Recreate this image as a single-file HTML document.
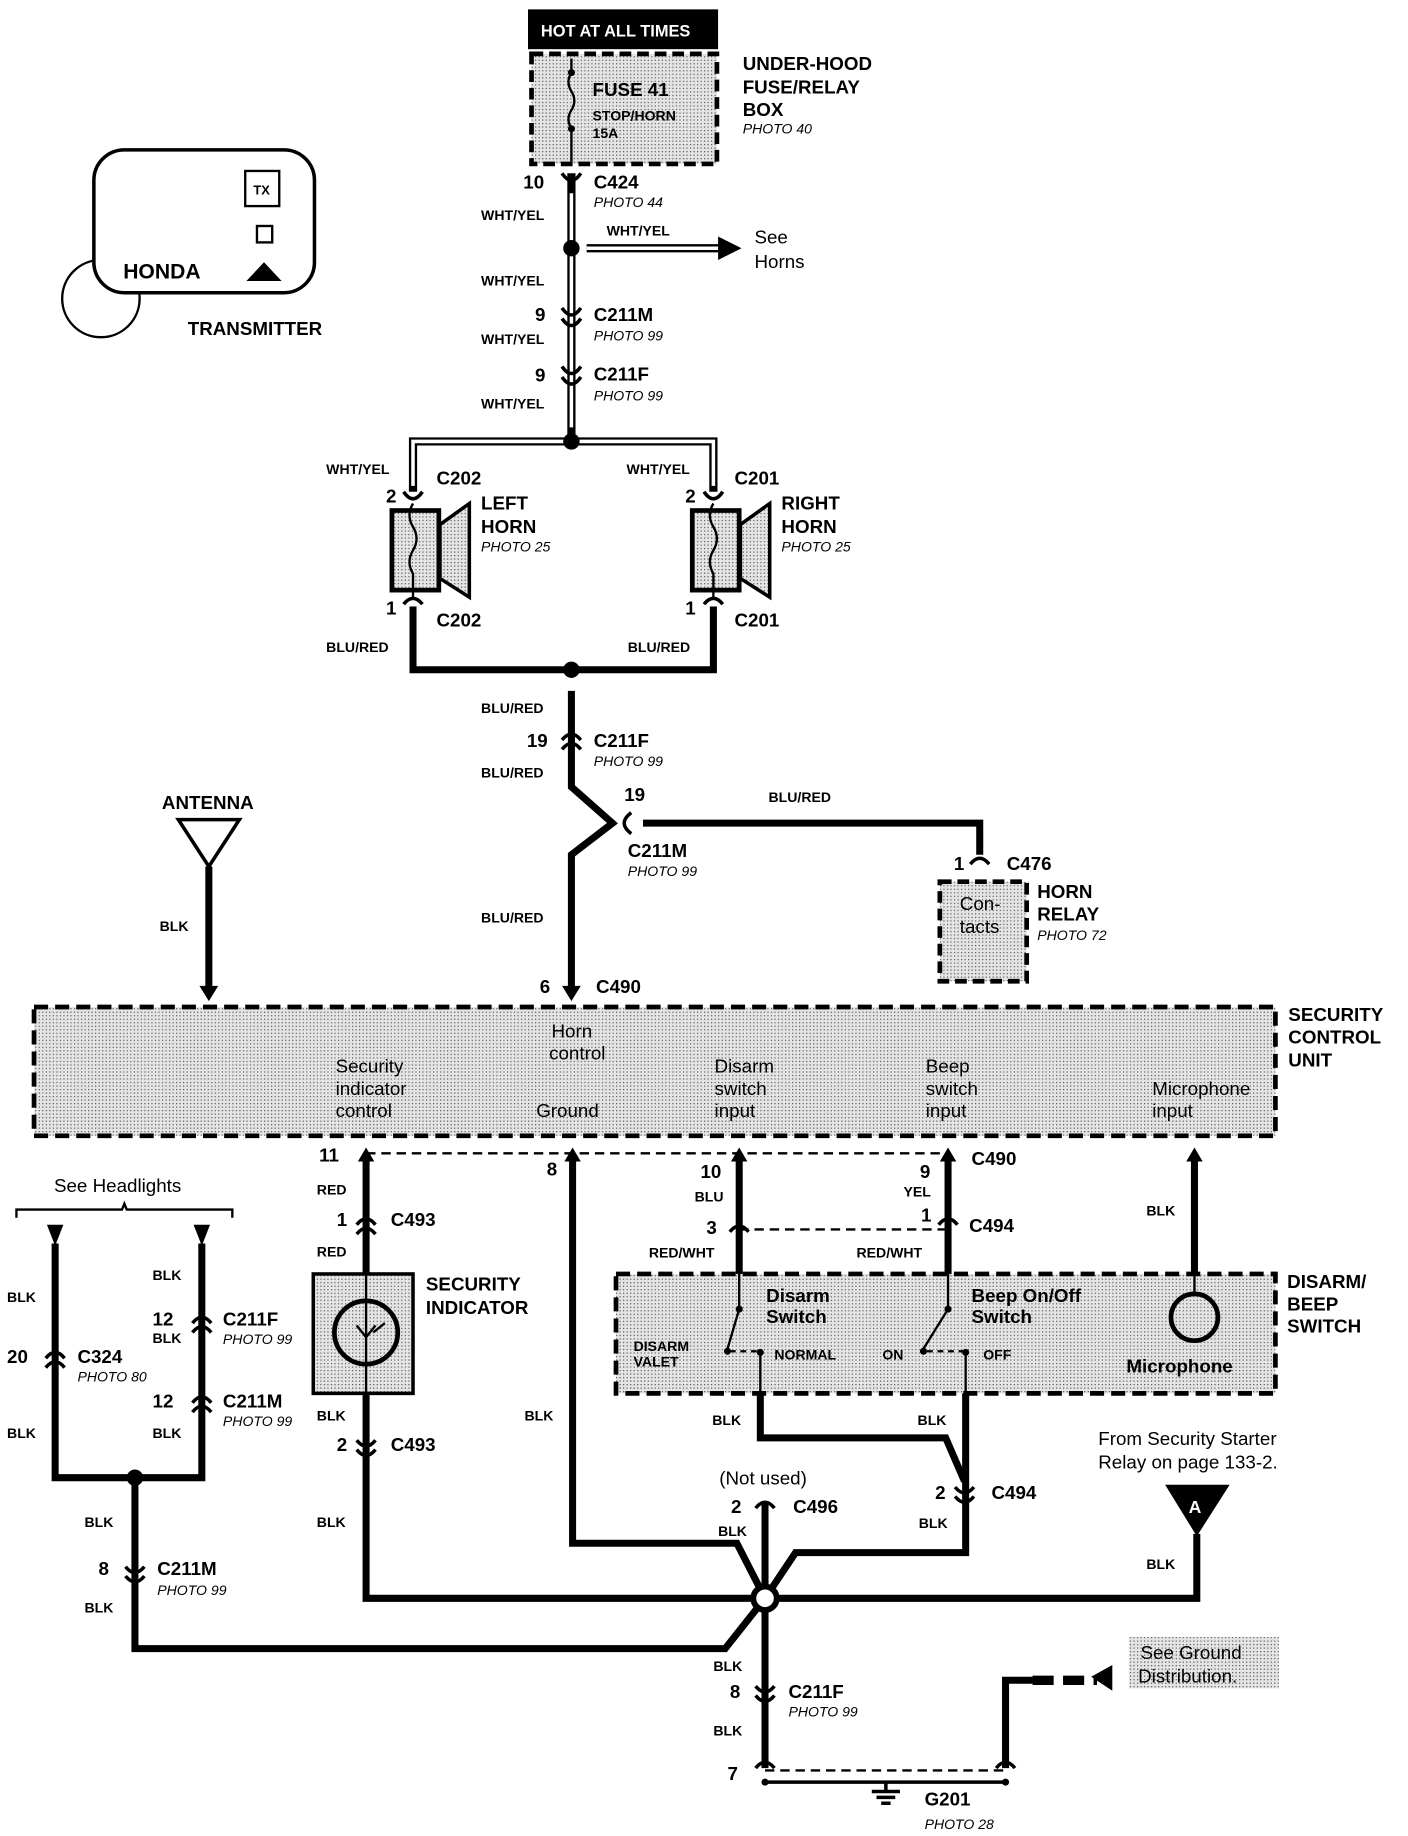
<!DOCTYPE html>
<html><head><meta charset="utf-8"><style>
html,body{margin:0;padding:0;background:#fff}
svg{display:block}
text{font-family:"Liberation Sans",sans-serif;font-weight:bold;fill:#000}
.w{font-size:12px}
.l{font-size:16px}
.p{font-size:12px;font-style:italic;font-weight:normal}
.n{font-size:16px;font-weight:normal}
</style></head><body>
<svg width="1408" height="1836" viewBox="0 0 1200 1568" preserveAspectRatio="none" xmlns="http://www.w3.org/2000/svg">
<defs>
<pattern id="st" width="3" height="3" patternUnits="userSpaceOnUse"><rect width="3" height="3" fill="#e4e4e4"/><rect width="1" height="1" fill="#555"/></pattern>
<marker id="ar" markerWidth="6" markerHeight="6" refX="3" refY="3" orient="auto" markerUnits="userSpaceOnUse"></marker>
</defs>
<!-- Transmitter -->
<circle cx="86" cy="255" r="33" fill="none" stroke="#000" stroke-width="2"/>
<rect x="80" y="128" width="188" height="122" rx="26" fill="#fff" stroke="#000" stroke-width="3"/>
<rect x="209" y="146" width="29" height="30" fill="none" stroke="#000" stroke-width="2"/>
<text x="216" y="166" style="font-size:11px">TX</text>
<rect x="219" y="193" width="13" height="14" fill="none" stroke="#000" stroke-width="2"/>
<text x="105" y="238" class="l" style="font-size:18px">HONDA</text>
<polygon points="210,240 240,240 225,224" fill="#000"/>
<text x="160" y="286" class="l">TRANSMITTER</text>

<!-- Hot at all times -->
<rect x="450" y="8" width="162" height="34" fill="#000"/>
<text x="461" y="31" style="fill:#fff;font-size:14px">HOT AT ALL TIMES</text>
<rect x="453" y="46" width="158" height="94" fill="url(#st)" stroke="#000" stroke-width="4" stroke-dasharray="10,5"/>
<path d="M487 50 L487 62 Q482 70 487 78 Q492 86 487 94 Q482 102 487 110 L487 138" fill="none" stroke="#000" stroke-width="2"/>
<circle cx="487" cy="62" r="3"/><circle cx="487" cy="110" r="3"/>
<text x="505" y="82" class="l">FUSE 41</text>
<text x="505" y="103" class="w">STOP/HORN</text>
<text x="505" y="118" class="w">15A</text>
<text x="633" y="60" class="l">UNDER-HOOD</text>
<text x="633" y="80" class="l">FUSE/RELAY</text>
<text x="633" y="99" class="l">BOX</text>
<text x="633" y="114" class="p">PHOTO 40</text>

<!-- WHT/YEL main -->
<g stroke="#000" stroke-width="7" fill="none">
<path d="M487 148 L487 372"/>
<path d="M352 420 L352 377 L608 377 L608 420"/>
<path d="M500 212 L615 212"/>
</g>
<g stroke="#fff" stroke-width="3" fill="none">
<path d="M487 165 L487 365"/>
<path d="M352 415 L352 377 L608 377 L608 415"/>
<path d="M500 212 L615 212"/>
</g>
<polygon points="612,202 632,212 612,222" fill="#000"/>
<circle cx="487" cy="212" r="7"/>
<circle cx="487" cy="377" r="7"/>
<g fill="none" stroke="#000" stroke-width="3">
<path d="M479 148 Q487 160 495 148"/>
<path d="M479 263 Q487 275 495 263"/><path d="M479 272 Q487 284 495 272"/>
<path d="M479 313 Q487 325 495 313"/><path d="M479 322 Q487 334 495 322"/>
<path d="M344 420 Q352 432 360 420"/><path d="M600 420 Q608 432 616 420"/>
<path d="M344 516 Q352 506 360 516"/><path d="M600 516 Q608 506 616 516"/>
<path d="M479 632 Q487 622 495 632"/><path d="M479 640 Q487 630 495 640"/>
</g>
<text x="446" y="161" class="l">10</text><text x="506" y="161" class="l">C424</text><text x="506" y="177" class="p">PHOTO 44</text>
<text x="410" y="188" class="w">WHT/YEL</text>
<text x="517" y="201" class="w">WHT/YEL</text>
<text x="643" y="208" class="n">See</text><text x="643" y="229" class="n">Horns</text>
<text x="410" y="244" class="w">WHT/YEL</text>
<text x="456" y="274" class="l">9</text><text x="506" y="274" class="l">C211M</text><text x="506" y="291" class="p">PHOTO 99</text>
<text x="410" y="294" class="w">WHT/YEL</text>
<text x="456" y="326" class="l">9</text><text x="506" y="325" class="l">C211F</text><text x="506" y="342" class="p">PHOTO 99</text>
<text x="410" y="349" class="w">WHT/YEL</text>

<!-- horns -->
<g>
<rect x="334" y="436" width="40" height="68" fill="url(#st)" stroke="#000" stroke-width="4"/>
<polygon points="375,448 400,430 400,510 375,494" fill="url(#st)" stroke="#000" stroke-width="3"/>
<path d="M352 430 Q346 440 352 450 Q358 460 352 470 Q346 480 352 490 L352 512" fill="none" stroke="#000" stroke-width="2"/>
<rect x="590" y="436" width="40" height="68" fill="url(#st)" stroke="#000" stroke-width="4"/>
<polygon points="631,448 656,430 656,510 631,494" fill="url(#st)" stroke="#000" stroke-width="3"/>
<path d="M608 430 Q602 440 608 450 Q614 460 608 470 Q602 480 608 490 L608 512" fill="none" stroke="#000" stroke-width="2"/>
</g>
<text x="278" y="405" class="w">WHT/YEL</text><text x="372" y="414" class="l">C202</text><text x="329" y="429" class="l">2</text>
<text x="410" y="435" class="l">LEFT</text><text x="410" y="455" class="l">HORN</text><text x="410" y="471" class="p">PHOTO 25</text>
<text x="329" y="525" class="l">1</text><text x="372" y="535" class="l">C202</text>
<text x="534" y="405" class="w">WHT/YEL</text><text x="626" y="414" class="l">C201</text><text x="584" y="429" class="l">2</text>
<text x="666" y="435" class="l">RIGHT</text><text x="666" y="455" class="l">HORN</text><text x="666" y="471" class="p">PHOTO 25</text>
<text x="584" y="525" class="l">1</text><text x="626" y="535" class="l">C201</text>
<text x="278" y="557" class="w">BLU/RED</text><text x="535" y="557" class="w">BLU/RED</text>

<!-- BLU/RED -->
<g stroke="#000" stroke-width="6" fill="none">
<path d="M352 518 L352 572 L608 572 L608 518"/>
<path d="M487 590 L487 672 L522 703 L487 730 L487 848"/>
<path d="M548 703 L835 703 L835 730"/>
<path d="M178 740 L178 845"/>
</g>
<polygon points="170,842 186,842 178,855" fill="#000"/>
<polygon points="479,842 495,842 487,855" fill="#000"/>
<path d="M538 694 Q526 703 538 712" fill="none" stroke="#000" stroke-width="3"/>
<path d="M827 738 Q835 728 843 738" fill="none" stroke="#000" stroke-width="3"/>
<circle cx="487" cy="572" r="7"/>
<text x="410" y="609" class="w">BLU/RED</text>
<text x="449" y="638" class="l">19</text><text x="506" y="638" class="l">C211F</text><text x="506" y="654" class="p">PHOTO 99</text>
<text x="410" y="664" class="w">BLU/RED</text>
<text x="532" y="684" class="l">19</text><text x="655" y="685" class="w">BLU/RED</text>
<text x="535" y="732" class="l">C211M</text><text x="535" y="748" class="p">PHOTO 99</text>
<text x="410" y="788" class="w">BLU/RED</text>
<text x="460" y="848" class="l">6</text><text x="508" y="848" class="l">C490</text>
<text x="813" y="743" class="l">1</text><text x="858" y="743" class="l">C476</text>
<rect x="801" y="753" width="74" height="85" fill="url(#st)" stroke="#000" stroke-width="4" stroke-dasharray="10,5"/>
<text x="818" y="777" class="n">Con-</text><text x="818" y="797" class="n">tacts</text>
<text x="884" y="767" class="l">HORN</text><text x="884" y="786" class="l">RELAY</text><text x="884" y="803" class="p">PHOTO 72</text>

<!-- antenna -->
<text x="138" y="691" class="l">ANTENNA</text>
<path d="M152 700 L204 700 L178 740 Z" fill="none" stroke="#000" stroke-width="3"/>
<text x="136" y="795" class="w">BLK</text>

<!-- SCU -->
<rect x="29" y="860" width="1058" height="110" fill="url(#st)" stroke="#000" stroke-width="4" stroke-dasharray="12,6"/>
<text x="1098" y="872" class="l">SECURITY</text><text x="1098" y="891" class="l">CONTROL</text><text x="1098" y="911" class="l">UNIT</text>
<g class="n">
<text x="470" y="886" class="n">Horn</text><text x="468" y="905" class="n">control</text>
<text x="286" y="916" class="n">Security</text><text x="286" y="935" class="n">indicator</text><text x="286" y="954" class="n">control</text>
<text x="457" y="954" class="n">Ground</text>
<text x="609" y="916" class="n">Disarm</text><text x="609" y="935" class="n">switch</text><text x="609" y="954" class="n">input</text>
<text x="789" y="916" class="n">Beep</text><text x="789" y="935" class="n">switch</text><text x="789" y="954" class="n">input</text>
<text x="982" y="935" class="n">Microphone</text><text x="982" y="954" class="n">input</text>
</g>

<!-- lower wiring -->
<path d="M312 985 L808 985" stroke="#000" stroke-width="2" stroke-dasharray="8,5"/>
<path d="M630 1050 L808 1050" stroke="#000" stroke-width="2" stroke-dasharray="8,5"/>
<g stroke="#000" stroke-width="6" fill="none">
<path d="M312 990 L312 1088"/><path d="M312 1190 L312 1365 L652 1365"/>
<path d="M488 990 L488 1318 L628 1318 L652 1365"/>
<path d="M630 990 L630 1088"/><path d="M808 990 L808 1088"/>
<path d="M1018 990 L1018 1103"/>
<path d="M648 1190 L648 1228 L806 1228 L822 1265"/>
<path d="M823 1190 L823 1326 L678 1326 L652 1365"/>
<path d="M652 1282 L652 1510"/>
<path d="M1020 1310 L1020 1365 L652 1365"/>
<path d="M115 1262 L115 1408 L618 1408 L652 1365"/>
<path d="M47 1062 L47 1262 L172 1262 L172 1062"/>
<path d="M857 1510 L857 1435 L880 1435"/>
</g>
<path d="M880 1435 L935 1435" stroke="#000" stroke-width="8" stroke-dasharray="18,8"/>
<polygon points="930,1432 948,1422 948,1444" fill="#000"/>
<g fill="#000">
<polygon points="305,992 319,992 312,980"/><polygon points="481,992 495,992 488,980"/>
<polygon points="623,992 637,992 630,980"/><polygon points="801,992 815,992 808,980"/>
<polygon points="1011,992 1025,992 1018,980"/>
<polygon points="40,1046 54,1046 47,1064"/><polygon points="165,1046 179,1046 172,1064"/>
</g>
<g fill="none" stroke="#000" stroke-width="3">
<path d="M304 1046 Q312 1036 320 1046"/><path d="M304 1054 Q312 1044 320 1054"/>
<path d="M304 1230 Q312 1240 320 1230"/><path d="M304 1238 Q312 1248 320 1238"/>
<path d="M622 1052 Q630 1042 638 1052"/><path d="M800 1046 Q808 1036 816 1046"/>
<path d="M814 1270 Q822 1280 830 1270"/><path d="M814 1278 Q822 1288 830 1278"/>
<path d="M644 1288 Q652 1278 660 1288"/>
<path d="M39 1160 Q47 1150 55 1160"/><path d="M39 1168 Q47 1158 55 1168"/>
<path d="M164 1130 Q172 1120 180 1130"/><path d="M164 1138 Q172 1128 180 1138"/>
<path d="M164 1198 Q172 1188 180 1198"/><path d="M164 1206 Q172 1196 180 1206"/>
<path d="M107 1338 Q115 1348 123 1338"/><path d="M107 1346 Q115 1356 123 1346"/>
<path d="M644 1440 Q652 1450 660 1440"/><path d="M644 1448 Q652 1458 660 1448"/>
<path d="M644 1510 Q652 1500 660 1510"/><path d="M849 1510 Q857 1500 865 1510"/>
</g>
<circle cx="652" cy="1365" r="10" fill="#fff" stroke="#000" stroke-width="5"/>
<circle cx="115" cy="1262" r="7"/>

<!-- Indicator -->
<rect x="267" y="1088" width="85" height="102" fill="url(#st)" stroke="#000" stroke-width="3"/>
<circle cx="312" cy="1138" r="27" fill="none" stroke="#000" stroke-width="4"/>
<path d="M312 1088 L312 1190" stroke="#000" stroke-width="2"/>
<path d="M304 1132 L312 1142 L320 1132 M318 1138 L328 1130" stroke="#000" stroke-width="2" fill="none"/>
<text x="363" y="1102" class="l">SECURITY</text><text x="363" y="1122" class="l">INDICATOR</text>
<text x="272" y="992" class="l">11</text><text x="270" y="1020" class="w">RED</text>
<text x="287" y="1047" class="l">1</text><text x="333" y="1047" class="l">C493</text>
<text x="270" y="1073" class="w">RED</text>
<text x="270" y="1213" class="w">BLK</text>
<text x="287" y="1239" class="l">2</text><text x="333" y="1239" class="l">C493</text>
<text x="270" y="1304" class="w">BLK</text>
<text x="466" y="1004" class="l">8</text><text x="447" y="1213" class="w">BLK</text>

<!-- disarm/beep -->
<text x="597" y="1006" class="l">10</text><text x="592" y="1026" class="w">BLU</text>
<text x="602" y="1054" class="l">3</text>
<text x="784" y="1006" class="l">9</text><text x="770" y="1022" class="w">YEL</text>
<text x="828" y="995" class="l">C490</text>
<text x="785" y="1043" class="l">1</text><text x="826" y="1052" class="l">C494</text>
<text x="553" y="1074" class="w">RED/WHT</text><text x="730" y="1074" class="w">RED/WHT</text>
<rect x="525" y="1088" width="562" height="102" fill="url(#st)" stroke="#000" stroke-width="4" stroke-dasharray="12,6"/>
<text x="1097" y="1100" class="l">DISARM/</text><text x="1097" y="1119" class="l">BEEP</text><text x="1097" y="1138" class="l">SWITCH</text>
<g stroke="#000" stroke-width="2" fill="none">
<path d="M630 1088 L630 1118 L620 1152"/><path d="M808 1088 L808 1118 L787 1152"/>
<path d="M622 1154 L646 1154" stroke-dasharray="5,4"/><path d="M790 1154 L821 1154" stroke-dasharray="5,4"/>
<path d="M648 1155 L648 1190"/><path d="M823 1155 L823 1190"/>
<path d="M1018 1088 L1018 1105"/>
</g>
<circle cx="630" cy="1118" r="3"/><circle cx="808" cy="1118" r="3"/>
<circle cx="620" cy="1154" r="3"/><circle cx="648" cy="1155" r="3"/>
<circle cx="787" cy="1154" r="3"/><circle cx="823" cy="1155" r="3"/>
<circle cx="1018" cy="1125" r="20" fill="url(#st)" stroke="#000" stroke-width="4"/>
<text x="653" y="1112" class="l">Disarm</text><text x="653" y="1130" class="l">Switch</text>
<text x="828" y="1112" class="l">Beep On/Off</text><text x="828" y="1130" class="l">Switch</text>
<text x="960" y="1172" class="l">Microphone</text>
<text x="540" y="1154" class="w">DISARM</text><text x="540" y="1167" class="w">VALET</text>
<text x="660" y="1161" class="w">NORMAL</text><text x="752" y="1161" class="w">ON</text><text x="838" y="1161" class="w">OFF</text>
<text x="977" y="1038" class="w">BLK</text>

<text x="607" y="1217" class="w">BLK</text><text x="782" y="1217" class="w">BLK</text>
<text x="797" y="1280" class="l">2</text><text x="845" y="1280" class="l">C494</text>
<text x="783" y="1305" class="w">BLK</text>
<text x="613" y="1268" class="n">(Not used)</text>
<text x="623" y="1292" class="l">2</text><text x="676" y="1292" class="l">C496</text>
<text x="612" y="1312" class="w">BLK</text>

<!-- A -->
<text x="936" y="1234" class="n">From Security Starter</text>
<text x="936" y="1254" class="n">Relay on page 133-2.</text>
<polygon points="993,1268 1048,1268 1020,1312" fill="#000"/>
<text x="1013" y="1292" style="fill:#fff;font-size:15px">A</text>
<text x="977" y="1340" class="w">BLK</text>

<!-- headlights -->
<text x="46" y="1018" class="n">See Headlights</text>
<path d="M14 1040 L14 1033 L104 1033 L106 1028 L108 1033 L198 1033 L198 1040" fill="none" stroke="#000" stroke-width="2"/>
<text x="6" y="1112" class="w">BLK</text>
<text x="6" y="1164" class="l">20</text><text x="66" y="1164" class="l">C324</text><text x="66" y="1180" class="p">PHOTO 80</text>
<text x="6" y="1228" class="w">BLK</text>
<text x="130" y="1093" class="w">BLK</text>
<text x="130" y="1132" class="l">12</text><text x="190" y="1132" class="l">C211F</text>
<text x="130" y="1147" class="w">BLK</text><text x="190" y="1148" class="p">PHOTO 99</text>
<text x="130" y="1202" class="l">12</text><text x="190" y="1202" class="l">C211M</text><text x="190" y="1218" class="p">PHOTO 99</text>
<text x="130" y="1228" class="w">BLK</text>
<text x="72" y="1304" class="w">BLK</text>
<text x="84" y="1345" class="l">8</text><text x="134" y="1345" class="l">C211M</text><text x="134" y="1362" class="p">PHOTO 99</text>
<text x="72" y="1377" class="w">BLK</text>

<!-- ground -->
<text x="608" y="1427" class="w">BLK</text>
<text x="622" y="1450" class="l">8</text><text x="672" y="1450" class="l">C211F</text><text x="672" y="1466" class="p">PHOTO 99</text>
<text x="608" y="1482" class="w">BLK</text>
<text x="620" y="1520" class="l">7</text>
<path d="M652 1512 L857 1512" stroke="#000" stroke-width="2" stroke-dasharray="8,5"/>
<path d="M652 1522 L857 1522" stroke="#000" stroke-width="3"/>
<circle cx="652" cy="1522" r="3"/><circle cx="857" cy="1522" r="3"/>
<path d="M755 1522 L755 1530 M743 1530 L767 1530 M747 1535 L763 1535 M751 1540 L759 1540" stroke="#000" stroke-width="3"/>
<text x="788" y="1542" class="l">G201</text><text x="788" y="1562" class="p">PHOTO 28</text>
<rect x="962" y="1398" width="128" height="44" fill="url(#st)"/>
<text x="972" y="1417" class="n">See Ground</text><text x="970" y="1437" class="n">Distribution.</text>
</svg>
</body></html>
